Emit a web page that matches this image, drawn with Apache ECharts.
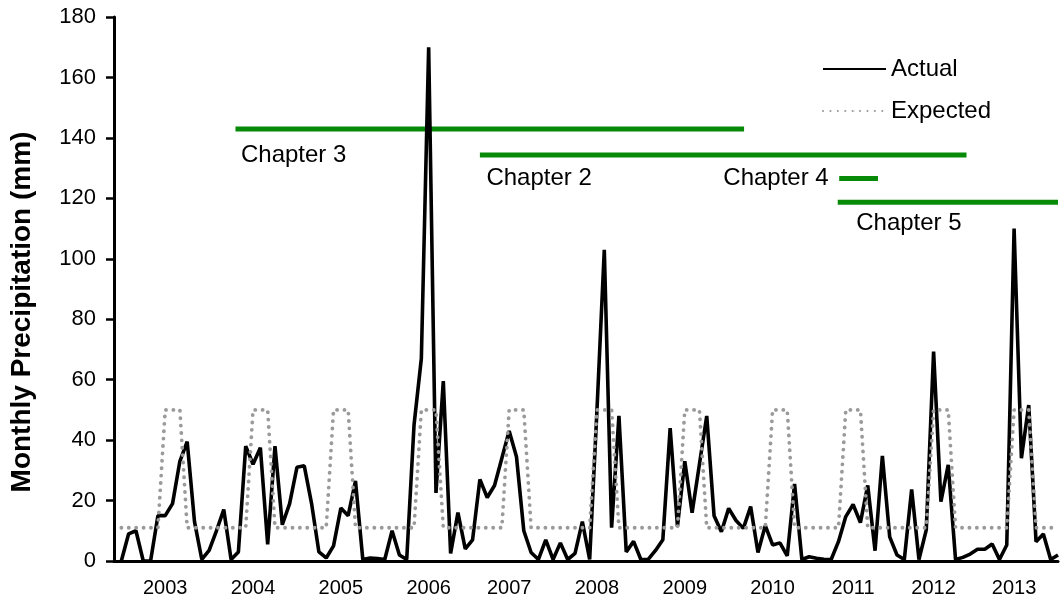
<!DOCTYPE html>
<html lang="en">
<head>
    <meta charset="UTF-8">
    <title>Monthly Precipitation</title>
    <script src="https://cdn.jsdelivr.net/npm/echarts@6/dist/echarts.min.js"></script>
    <style>
        html, body { margin: 0; padding: 0; background: #fff; }
        #chart { width: 1061px; height: 608px; }
    </style>
</head>
<body>
    <div id="chart"></div>
    <script>
        // monthly values, one per point from left to right
        const actual = [
            0, 9, 10, 0, 0, 15, 15, 19, 33, 39.5, 13, 0.5,
            3.5, 10, 17, 0.5, 3, 38, 32, 37.5, 5.5, 38, 12, 19,
            31, 31.5, 19, 3, 1, 5, 17.5, 15, 26.5, 0.5, 1, 0.8,
            0.5, 10, 2, 0.5, 45, 67, 170, 22.5, 59.5, 2.5, 16, 4,
            7, 27, 21, 25, 34, 43, 34.5, 10, 2.8, 0.5, 7, 0.5,
            6, 0.5, 2.5, 13, 0.5, 50, 103, 11, 48, 3, 6.5, 0.5,
            0.5, 3.5, 7, 44, 11.5, 33, 16, 32, 48, 15, 9.7, 17.4,
            13.4, 10.8, 18, 2.8, 11.7, 5.3, 6, 1.7, 25.5, 0.5, 1.4, 0.9,
            0.6, 0.5, 6.4, 14.7, 18.7, 12.7, 25, 3.4, 34.8, 8, 2, 0.5,
            23.7, 0.5, 10.3, 69.3, 19.6, 31.8, 0.5, 1.2, 2.3, 3.9, 3.9, 5.6,
            0.5, 5.3, 110, 34, 51.6, 6.4, 8.9, 0.5, 2
        ];
        const expected = [
            11, 11, 11, 11, 11, 11, 50, 50, 50, 11, 11, 11,
            11, 11, 11, 11, 11, 11, 50, 50, 50, 11, 11, 11,
            11, 11, 11, 11, 11, 50, 50, 50, 11, 11, 11, 11,
            11, 11, 11, 11, 11, 50, 50, 50, 11, 11, 11, 11,
            11, 11, 11, 11, 11, 50, 50, 50, 11, 11, 11, 11,
            11, 11, 11, 11, 11, 50, 50, 50, 11, 11, 11, 11,
            11, 11, 11, 11, 11, 50, 50, 50, 11, 11, 11, 11,
            11, 11, 11, 11, 11, 50, 50, 50, 11, 11, 11, 11,
            11, 11, 11, 50, 50, 50, 11, 11, 11, 11, 11, 11,
            11, 11, 11, 50, 50, 50, 11, 11, 11, 11, 11, 11,
            11, 11, 50, 50, 50, 11, 11, 11, 11
        ];

        // year tick labels and the point each one sits under
        const yearLabels = ['2003', '2004', '2005', '2006', '2007', '2008', '2009', '2010', '2011', '2012', '2013'];
        const yearPoints = [6, 18, 30, 42, 53, 65, 77, 89, 100, 111, 122];

        // chapter bars: start / end measured in point units (axis start = 0), level in mm
        const chapterNames = ['Chapter 3', 'Chapter 2', 'Chapter 4', 'Chapter 5'];
        const chapterStart = [16.6, 50.0, 99.1, 98.9];
        const chapterEnd = [86.1, 116.5, 104.4, 129];
        const chapterLevel = [142.9, 134.3, 126.6, 118.7];

        const FONT = '"Liberation Sans", Arial, sans-serif';
        const GREEN = '#078a07';

        // one empty slot before the first month, so the line starts just off the axis
        const categories = ['start'].concat(actual.map((v, i) => 'm' + i));
        const labelAt = {};
        yearPoints.forEach((p, k) => { labelAt[p + 1] = yearLabels[k]; });

        const chapterLabelStyle = {
            'Chapter 3': { position: 'right', distance: 5, offset: [0, 26] },
            'Chapter 2': { position: 'right', distance: 6, offset: [0, 23] },
            'Chapter 4': { position: 'left', distance: 10, offset: [0, 0] },
            'Chapter 5': { position: 'right', distance: 18, offset: [0, 21] }
        };

        const chapterSeries = chapterNames.map((name, k) => ({
            name: name,
            type: 'line',
            xAxisIndex: 1,
            z: 1,
            symbol: 'none',
            silent: true,
            lineStyle: { color: GREEN, width: 5, cap: 'butt' },
            data: [[chapterStart[k], chapterLevel[k]], [chapterEnd[k], chapterLevel[k]]]
        }));

        const chapterText = {
            name: 'chapterText',
            type: 'scatter',
            xAxisIndex: 1,
            z: 4,
            silent: true,
            symbolSize: 1,
            itemStyle: { color: 'rgba(0,0,0,0)', opacity: 1 },
            data: chapterNames.map((name, k) => ({
                value: [chapterStart[k], chapterLevel[k]],
                label: Object.assign({
                    show: true,
                    formatter: name,
                    color: '#000',
                    opacity: 1,
                    fontSize: 24,
                    fontFamily: FONT
                }, chapterLabelStyle[name])
            }))
        };

        const chart = echarts.init(document.getElementById('chart'));
        chart.setOption({
            animation: false,
            backgroundColor: '#fff',
            grid: { left: 113, right: 0, top: 17, bottom: 47, containLabel: false },
            legend: {
                data: ['Actual', 'Expected'],
                orient: 'vertical',
                left: 817,
                top: 52,
                itemWidth: 63,
                itemHeight: 1,
                itemGap: 18,
                textStyle: { fontSize: 24, color: '#000', fontFamily: FONT }
            },
            xAxis: [{
                type: 'category',
                data: categories,
                boundaryGap: false,
                axisLine: { lineStyle: { color: '#000', width: 3 } },
                axisTick: { show: false },
                axisLabel: {
                    interval: 0,
                    margin: 17,
                    fontSize: 20,
                    color: '#000',
                    fontFamily: FONT,
                    formatter: (v, i) => labelAt[i] || ''
                },
                splitLine: { show: false }
            }, {
                type: 'value',
                min: 0,
                max: categories.length - 1,
                show: false
            }],
            yAxis: {
                type: 'value',
                min: 0,
                max: 180,
                interval: 20,
                name: 'Monthly Precipitation (mm)',
                nameLocation: 'middle',
                nameGap: 78,
                nameTextStyle: {
                    fontSize: 28,
                    fontWeight: 'bold',
                    color: '#000',
                    fontFamily: FONT,
                    padding: [0, 46, 0, 0]
                },
                axisLine: { show: true, lineStyle: { color: '#000', width: 3 } },
                axisTick: { show: true, length: 8, lineStyle: { color: '#000', width: 2.5 } },
                axisLabel: { margin: 18, fontSize: 22, color: '#000', fontFamily: FONT },
                splitLine: { show: false }
            },
            series: chapterSeries.concat([
                {
                    name: 'Actual',
                    type: 'line',
                    z: 2,
                    symbol: 'none',
                    lineStyle: { color: '#000', width: 3.6 },
                    itemStyle: { color: '#000' },
                    data: [null].concat(actual)
                },
                {
                    name: 'Expected',
                    type: 'line',
                    z: 3,
                    symbol: 'none',
                    lineStyle: { color: '#9a9a9a', width: 3.8, type: [0.1, 7.3], cap: 'round' },
                    itemStyle: { color: '#9a9a9a' },
                    data: [null].concat(expected)
                },
                chapterText
            ])
        });
    </script>
</body>
</html>
